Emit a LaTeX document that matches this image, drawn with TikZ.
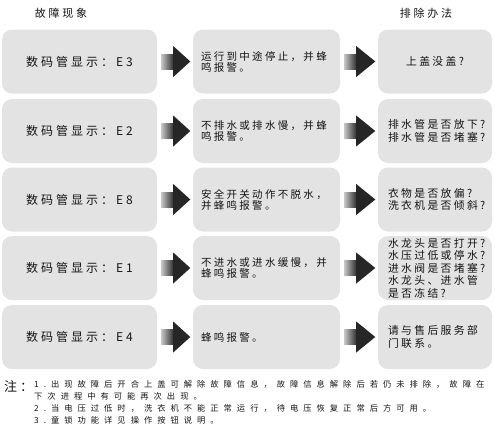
\documentclass[tikz,border=0pt]{standalone}
\usepackage{fontspec}
\usepackage{xcolor}
\usetikzlibrary{calc}

\newfontfamily\cjkbig[LetterSpace=25]{Noto Sans CJK SC}
\newfontfamily\cjkmid[LetterSpace=22]{Noto Sans CJK SC}
\newfontfamily\cjknote[LetterSpace=60]{Noto Sans CJK SC}

\definecolor{boxgray}{RGB}{227,227,227}
\definecolor{arrowdark}{RGB}{38,38,38}
\definecolor{inkgray}{RGB}{20,20,20}

\newcommand\leftfont{\cjkbig\fontsize{12}{13}\selectfont}
\newcommand\midfont{\cjkmid\fontsize{10.5}{11}\selectfont}
\newcommand\listfont{\cjkmid\fontsize{10.8}{12.5}\selectfont}
\newcommand\notefont{\cjknote\fontsize{8.3}{12}\selectfont}

% thick arrow from box #1 to box #2
\newcommand\fatarrow[2]{%
 \shade[left color=gray!45, right color=black!80]
  ($(#1.east)+(4,-7.5)$) rectangle ($(#1.east)+(16,7.5)$);
 \fill[arrowdark] ($(#1.east)+(16,-15.5)$) -- ($(#2.west)+(-2.5,0)$)
  -- ($(#1.east)+(16,15.5)$) -- cycle;
}

\tikzset{
 fault/.style={fill=boxgray, rounded corners=10pt, minimum width=155pt,
  minimum height=64pt, inner sep=0pt, text=inkgray, font=\leftfont},
 symptom/.style={fill=boxgray, rounded corners=10pt, text width=131pt,
  inner xsep=8pt, inner ysep=0pt, minimum height=64pt, align=left,
  text=inkgray, font=\midfont},
 remedy/.style={fill=boxgray, rounded corners=10pt, text width=94pt,
  inner xsep=10pt, inner ysep=0pt, minimum height=64pt, align=left,
  text=inkgray, font=\listfont},
}

\begin{document}
\begin{tikzpicture}[x=1pt, y=-1pt]
 \useasboundingbox (0,0) rectangle (495,432);

 \node[text=inkgray, font=\cjkbig\fontsize{11}{12}\selectfont] (head1) at (61,13) {故障现象};
 \node[text=inkgray, font=\cjkbig\fontsize{11}{12}\selectfont] (head2) at (426,13) {排除办法};

 % fault codes
 \node[fault] (l1) at (79.5, 61.5) {数码管显示：E3};
 \node[fault] (l2) at (79.5, 131) {数码管显示：E2};
 \node[fault] (l3) at (79.5, 199.5) {数码管显示：E8};
 \node[fault] (l4) at (79.5, 268) {数码管显示：E1};
 \node[fault] (l5) at (79.5, 337) {数码管显示：E4};

 % symptoms
 \node[symptom] (m1) at (266.5, 61.5) {运行到中途停止，并蜂\\鸣报警。};
 \node[symptom] (m2) at (266.5, 131) {不排水或排水慢，并蜂\\鸣报警。};
 \node[symptom] (m3) at (266.5, 199.5) {安全开关动作不脱水，\\并蜂鸣报警。};
 \node[symptom] (m4) at (266.5, 268) {不进水或进水缓慢，并\\蜂鸣报警。};
 \node[symptom] (m5) at (266.5, 337) {蜂鸣报警。};

 % remedies
 \node[remedy, align=center] (r1) at (435, 61.5) {上盖没盖?};
 \node[remedy, align=center] (r2) at (435, 131) {排水管是否放下?\\排水管是否堵塞?};
 \node[remedy] (r3) at (435, 199.5) {衣物是否放偏?\\洗衣机是否倾斜?};
 \node[remedy] (r4) at (435, 268) {水龙头是否打开?\\水压过低或停水?\\进水阀是否堵塞?\\水龙头、进水管\\是否冻结?};
 \node[remedy] (r5) at (435, 337) {请与售后服务部\\门联系。};

 \fatarrow{l1}{m1} \fatarrow{m1}{r1}
 \fatarrow{l2}{m2} \fatarrow{m2}{r2}
 \fatarrow{l3}{m3} \fatarrow{m3}{r3}
 \fatarrow{l4}{m4} \fatarrow{m4}{r4}
 \fatarrow{l5}{m5} \fatarrow{m5}{r5}

 % notes
 \node[anchor=west, inner sep=0pt, text=inkgray, font=\cjkmid\fontsize{13}{14}\selectfont] (notemark) at (4,386) {注：};
 \node[anchor=north west, inner sep=0pt, align=left, text=inkgray, font=\notefont] (notes) at (34,380)
  {1.出现故障后开合上盖可解除故障信息，故障信息解除后若仍未排除，故障在\\
   下次进程中有可能再次出现。\\
   2.当电压过低时，洗衣机不能正常运行，待电压恢复正常后方可用。\\
   3.童锁功能详见操作按钮说明。};
\end{tikzpicture}
\end{document}
